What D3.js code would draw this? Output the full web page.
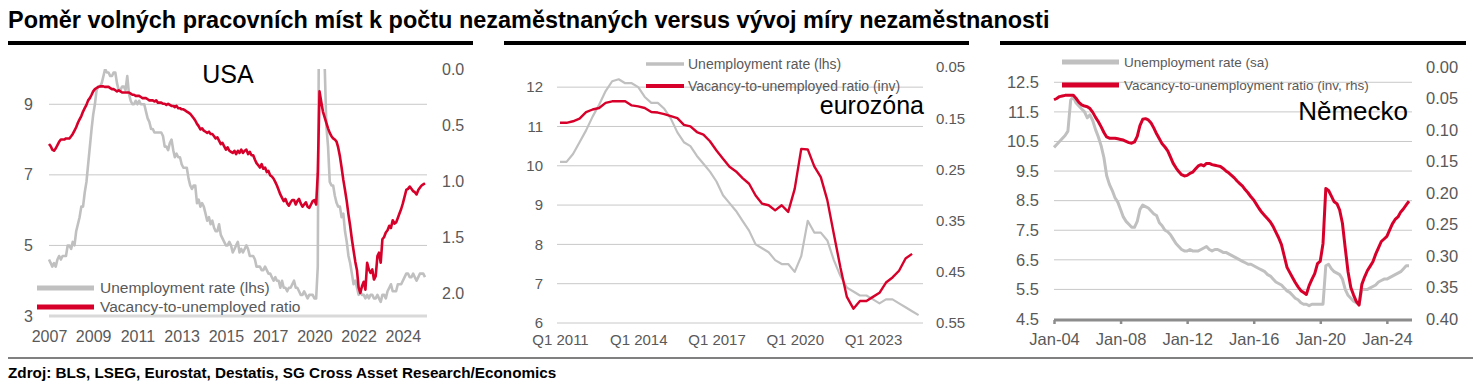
<!DOCTYPE html>
<html>
<head>
<meta charset="utf-8">
<script src="https://cdn.jsdelivr.net/npm/d3@7"></script>
<style>
  body { margin: 0; background: #fff; }
  svg text { font-family: "Liberation Sans", Arial, sans-serif; }
  .axis path.domain { display: none; }
  .axis text { fill: #595959; }
</style>
</head>
<body>
<svg id="chart" width="1473" height="391"></svg>
<script>
// ---------- DATA ----------
// USA, monthly Jan 2007 - Jun 2025
const usUnemp = [
  4.6,4.5,4.4,4.5,4.4,4.6,4.7,4.6,4.7,4.7,4.7,5.0,
  5.0,4.9,5.1,5.0,5.4,5.6,5.8,6.1,6.1,6.5,6.8,7.3,
  7.8,8.3,8.7,9.0,9.4,9.5,9.5,9.6,9.8,10.0,9.9,9.9,
  9.8,9.8,9.9,9.9,9.6,9.4,9.4,9.5,9.5,9.4,9.8,9.3,
  9.1,9.0,9.0,9.1,9.0,9.1,9.0,9.0,9.0,8.8,8.6,8.5,
  8.3,8.3,8.2,8.2,8.2,8.2,8.2,8.1,7.8,7.8,7.7,7.9,
  8.0,7.7,7.5,7.6,7.5,7.5,7.3,7.2,7.2,7.2,6.9,6.7,
  6.6,6.7,6.7,6.2,6.3,6.1,6.2,6.1,5.9,5.7,5.8,5.6,
  5.7,5.5,5.4,5.4,5.6,5.3,5.2,5.1,5.0,5.0,5.1,5.0,
  4.8,4.9,5.0,5.1,4.8,4.9,4.8,4.9,5.0,4.9,4.7,4.7,
  4.7,4.6,4.4,4.4,4.4,4.3,4.3,4.4,4.3,4.2,4.2,4.1,
  4.0,4.1,4.0,4.0,3.8,4.0,3.8,3.8,3.7,3.8,3.8,3.9,
  4.0,3.8,3.8,3.7,3.6,3.6,3.7,3.6,3.5,3.6,3.6,3.6,
  3.5,3.5,4.4,14.8,13.2,11.0,10.2,8.4,7.8,6.8,6.7,6.7,
  6.4,6.2,6.1,6.1,5.8,5.9,5.4,5.1,4.7,4.5,4.2,3.9,
  4.0,3.8,3.6,3.7,3.6,3.6,3.5,3.6,3.5,3.6,3.6,3.5,
  3.5,3.6,3.5,3.4,3.6,3.6,3.5,3.7,3.8,3.9,3.7,3.7,
  3.7,3.9,3.9,3.9,4.0,4.1,4.2,4.2,4.1,4.1,4.2,4.1,
  4.0,4.1,4.2,4.2,4.2,4.1
];
const usRatio = [
  .67,.69,.72,.73,.71,.68,.65,.63,.63,.63,.62,.62,
  .62,.60,.58,.55,.52,.48,.45,.42,.38,.35,.32,.28,
  .26,.23,.20,.18,.17,.16,.155,.155,.155,.16,.16,.16,
  .17,.18,.18,.19,.20,.19,.20,.21,.21,.21,.21,.21,
  .22,.23,.23,.24,.24,.24,.25,.26,.26,.26,.27,.28,
  .28,.28,.29,.28,.30,.30,.30,.31,.31,.32,.31,.32,
  .33,.33,.34,.33,.35,.35,.36,.36,.37,.38,.39,.40,
  .42,.44,.46,.49,.51,.54,.53,.55,.56,.57,.56,.58,
  .58,.60,.62,.61,.64,.67,.66,.69,.72,.70,.73,.74,
  .75,.73,.76,.73,.75,.72,.75,.73,.72,.76,.74,.77,
  .77,.81,.84,.86,.88,.85,.89,.88,.92,.91,.95,.96,
  .98,1.01,1.04,1.08,1.12,1.15,1.18,1.16,1.20,1.22,1.19,1.17,
  1.17,1.21,1.18,1.16,1.20,1.23,1.21,1.19,1.23,1.24,1.21,1.18,
  1.17,1.21,.93,.20,.29,.38,.43,.48,.53,.57,.60,.62,
  .63,.65,.70,.78,.88,.99,1.08,1.18,1.30,1.40,1.52,1.62,
  1.72,1.80,1.95,2.0,1.94,1.90,1.97,1.73,1.79,1.82,1.79,1.88,
  1.85,1.67,1.64,1.73,1.52,1.50,1.46,1.44,1.40,1.42,1.35,1.38,
  1.37,1.33,1.29,1.25,1.20,1.14,1.08,1.07,1.05,1.07,1.09,1.10,
  1.12,1.08,1.06,1.04,1.03,1.02
];
const usTickLabels = ["2007","2009","2011","2013","2015","2017","2020","2022","2024"];
const usLeftTicks = [3, 5, 7, 9];
const usRightTicks = [0, 0.5, 1.0, 1.5, 2.0];

// Eurozone, quarterly Q1 2011 - Q4 2024
const ezQuarters = d3.range(56).map(i => "Q" + (i % 4 + 1) + " " + (2011 + Math.floor(i / 4)));
const ezUnemp = [
  10.1,10.1,10.3,10.6,10.9,11.25,11.55,11.9,12.15,12.2,
  12.1,12.1,12.0,11.75,11.6,11.6,11.45,11.2,10.85,10.6,
  10.5,10.25,10.05,9.85,9.6,9.25,9.05,8.85,8.6,8.35,
  8.0,7.9,7.8,7.6,7.5,7.5,7.3,7.7,8.6,8.3,
  8.3,8.1,7.6,7.2,6.9,6.8,6.7,6.7,6.6,6.5,
  6.6,6.6,6.5,6.4,6.3,6.2
];
const ezRatio = [
  .159,.159,.156,.151,.138,.133,.130,.120,.117,.117,
  .117,.125,.127,.130,.138,.139,.142,.146,.150,.163,
  .166,.177,.182,.195,.213,.229,.245,.254,.267,.278,
  .301,.317,.320,.330,.320,.333,.288,.210,.211,.244,
  .265,.310,.376,.441,.499,.522,.507,.507,.499,.491,
  .471,.461,.448,.424,.415
];
const ezTickLabels = ["Q1 2011","Q1 2014","Q1 2017","Q1 2020","Q1 2023"];
const ezLeftTicks = [6, 7, 8, 9, 10, 11, 12];
const ezRightTicks = [0.05, 0.15, 0.25, 0.35, 0.45, 0.55];

// Germany, every second month Jan 2004 - May 2025
const deUnemp = [
  10.3,10.4,10.5,10.6,10.7,10.85,11.9,12.0,11.8,11.7,
  11.6,11.5,11.3,11.4,11.2,10.9,10.65,10.35,9.95,9.35,
  9.05,8.85,8.6,8.45,8.2,7.95,7.8,7.7,7.6,7.6,
  7.8,8.2,8.35,8.3,8.25,8.15,8.05,8.0,7.75,7.65,
  7.5,7.45,7.35,7.2,7.05,6.95,6.85,6.8,6.8,6.85,
  6.8,6.8,6.8,6.85,6.9,6.95,6.85,6.8,6.85,6.85,
  6.8,6.75,6.75,6.7,6.65,6.6,6.55,6.5,6.45,6.4,
  6.35,6.35,6.3,6.25,6.2,6.15,6.1,6.0,5.95,5.85,
  5.75,5.7,5.65,5.55,5.45,5.4,5.3,5.2,5.15,5.05,
  5.0,5.0,4.95,5.0,5.0,5.0,5.0,5.0,6.3,6.35,
  6.2,6.1,6.05,6.0,5.85,5.5,5.3,5.2,5.1,5.05,
  5.0,5.5,5.5,5.5,5.55,5.6,5.65,5.75,5.8,5.85,
  5.85,5.9,5.95,6.0,6.05,6.1,6.2,6.3,6.3
];
const deRatio = [
  .052,.050,.047,.046,.045,.045,.045,.045,.050,.056,
  .060,.062,.063,.066,.072,.080,.087,.095,.104,.111,
  .113,.113,.113,.114,.115,.116,.118,.120,.121,.119,
  .110,.093,.083,.082,.084,.089,.097,.106,.114,.122,
  .127,.133,.143,.153,.160,.166,.171,.173,.172,.169,
  .167,.162,.157,.155,.157,.153,.153,.155,.156,.157,
  .158,.161,.165,.168,.172,.176,.181,.185,.189,.195,
  .200,.206,.211,.218,.225,.231,.236,.241,.246,.253,
  .262,.271,.282,.300,.318,.326,.334,.342,.349,.355,
  .358,.361,.347,.337,.328,.312,.308,.280,.193,.196,
  .205,.214,.217,.227,.248,.287,.325,.350,.362,.372,
  .378,.345,.333,.323,.316,.309,.297,.287,.277,.273,
  .269,.259,.249,.242,.238,.230,.225,.219,.213
];
const deTickLabels = ["Jan-04","Jan-08","Jan-12","Jan-16","Jan-20","Jan-24"];
const deLeftTicks = [4.5, 5.5, 6.5, 7.5, 8.5, 9.5, 10.5, 11.5, 12.5];
const deRightTicks = [0, 0.05, 0.10, 0.15, 0.20, 0.25, 0.30, 0.35, 0.40];

// ---------- STYLE ----------
const RED = "#d7002a";
const GREY = "#c0c0c0";
const GRID = "#c8c8c8";
const TXT = "#595959";

const svg = d3.select("#chart");

// title, header bars, footer
const title = svg.append("text")
  .attr("x", 8).attr("y", 28)
  .attr("font-size", 22).attr("font-weight", "bold")
  .attr("fill", "#000")
  .text("Poměr volných pracovních míst k počtu nezaměstnaných versus vývoj míry nezaměstnanosti");
// fit width of the original heading
let tw = title.node().getComputedTextLength();
title.attr("font-size", 22 * 1042 / tw);

[[8, 473], [504, 969], [1000, 1466]].forEach(b => {
  svg.append("rect").attr("x", b[0]).attr("y", 41).attr("width", b[1] - b[0]).attr("height", 4).attr("fill", "#000");
});

svg.append("rect").attr("x", 8).attr("y", 357).attr("width", 1465).attr("height", 2).attr("fill", "#808080");

const foot = svg.append("text")
  .attr("x", 8).attr("y", 378)
  .attr("font-size", 14).attr("font-weight", "bold").attr("fill", "#000")
  .text("Zdroj: BLS, LSEG, Eurostat, Destatis, SG Cross Asset Research/Economics");
let fw = foot.node().getComputedTextLength();
foot.attr("font-size", 14 * 549 / fw);

function gridlines(g, yScale, ticks, x0, x1) {
  g.selectAll(null).data(ticks).enter().append("line")
    .attr("x1", x0).attr("x2", x1)
    .attr("y1", d => yScale(d)).attr("y2", d => yScale(d))
    .attr("stroke", GRID).attr("stroke-width", 1);
}

function legend(g, x0, x1, tx, y, color, w, label, fs) {
  g.append("line").attr("x1", x0).attr("x2", x1).attr("y1", y).attr("y2", y)
    .attr("stroke", color).attr("stroke-width", w);
  g.append("text").attr("x", tx).attr("y", y).attr("dy", "0.35em")
    .attr("font-size", fs).attr("fill", TXT).text(label);
}

// ---------- USA ----------
(function () {
  const g = svg.append("g");
  const dates = usUnemp.map((d, i) => new Date(2007, i, 1));
  const x = d3.scaleTime().domain([dates[0], dates[dates.length - 1]]).range([49, 425]);
  const yL = d3.scaleLinear().domain([3, 10]).range([316, 69]);
  const yR = d3.scaleLinear().domain([0, 2]).range([69, 293]);

  gridlines(g, yL, [5, 7, 9], 49, 427);
  g.append("line").attr("x1", 49).attr("x2", 427).attr("y1", yL(3)).attr("y2", yL(3))
    .attr("stroke", "#d9d9d9").attr("stroke-width", 3);

  g.append("clipPath").attr("id", "clipUS").append("rect")
    .attr("x", 40).attr("y", 69).attr("width", 400).attr("height", 250);

  const lineL = d3.line().x((d, i) => x(dates[i])).y(d => yL(d));
  const lineR = d3.line().x((d, i) => x(dates[i])).y(d => yR(d));
  g.append("path").datum(usUnemp).attr("d", lineL).attr("clip-path", "url(#clipUS)")
    .attr("fill", "none").attr("stroke", GREY).attr("stroke-width", 2.6).attr("stroke-linejoin", "round");
  g.append("path").datum(usRatio).attr("d", lineR).attr("clip-path", "url(#clipUS)")
    .attr("fill", "none").attr("stroke", RED).attr("stroke-width", 2.6).attr("stroke-linejoin", "round");

  const fs = 16;
  g.append("g").attr("class", "axis").attr("transform", "translate(33,0)")
    .call(d3.axisLeft(yL).tickValues(usLeftTicks).tickSize(0).tickPadding(0).tickFormat(d3.format("d")))
    .selectAll("text").attr("font-size", fs);
  g.append("g").attr("class", "axis").attr("transform", "translate(442,0)")
    .call(d3.axisRight(yR).tickValues(usRightTicks).tickSize(0).tickPadding(0).tickFormat(d3.format(".1f")))
    .selectAll("text").attr("font-size", fs);
  const tickDates = usTickLabels.map((d, i) => dates[i * 26]);
  g.append("g").attr("class", "axis").attr("transform", "translate(0," + (342 - 0.71 * fs) + ")")
    .call(d3.axisBottom(x).tickValues(tickDates).tickSize(0).tickPadding(0).tickFormat((d, i) => usTickLabels[i]))
    .selectAll("text").attr("font-size", fs);

  g.append("text").attr("x", 228).attr("y", 83).attr("text-anchor", "middle")
    .attr("font-size", 25).attr("fill", "#000").text("USA");

  legend(g, 37, 94, 100, 288, GREY, 5, "Unemployment rate (lhs)", 15.5);
  legend(g, 37, 94, 100, 307, RED, 5, "Vacancy-to-unemployed ratio", 15.5);
})();

// ---------- EUROZONE ----------
(function () {
  const g = svg.append("g");
  const x = d3.scalePoint().domain(ezQuarters).range([560, 560 + 6.52 * 55]);
  const yL = d3.scaleLinear().domain([6, 12.5]).range([323, 67.5]);
  const yR = d3.scaleLinear().domain([0.05, 0.55]).range([67, 323]);

  gridlines(g, yL, ezLeftTicks, 557, 923);

  const lineL = d3.line().x((d, i) => x(ezQuarters[i])).y(d => yL(d));
  const lineR = d3.line().x((d, i) => x(ezQuarters[i])).y(d => yR(d));
  g.append("path").datum(ezUnemp).attr("d", lineL)
    .attr("fill", "none").attr("stroke", GREY).attr("stroke-width", 2.2).attr("stroke-linejoin", "round");
  g.append("path").datum(ezRatio).attr("d", lineR)
    .attr("fill", "none").attr("stroke", RED).attr("stroke-width", 2.4).attr("stroke-linejoin", "round");

  const fs = 15;
  g.append("g").attr("class", "axis").attr("transform", "translate(543,0)")
    .call(d3.axisLeft(yL).tickValues(ezLeftTicks).tickSize(0).tickPadding(0).tickFormat(d3.format("d")))
    .selectAll("text").attr("font-size", fs);
  g.append("g").attr("class", "axis").attr("transform", "translate(936,0)")
    .call(d3.axisRight(yR).tickValues(ezRightTicks).tickSize(0).tickPadding(0).tickFormat(d3.format(".2f")))
    .selectAll("text").attr("font-size", fs);
  g.append("g").attr("class", "axis").attr("transform", "translate(0," + (345 - 0.71 * fs) + ")")
    .call(d3.axisBottom(x).tickValues(ezTickLabels).tickSize(0).tickPadding(0))
    .selectAll("text").attr("font-size", fs);

  legend(g, 646, 684, 688, 64, GREY, 3.5, "Unemployment rate (lhs)", 14);
  legend(g, 646, 684, 688, 86, RED, 4, "Vacancy-to-unemployed ratio (inv)", 14);

  g.append("text").attr("x", 924).attr("y", 114).attr("text-anchor", "end")
    .attr("font-size", 25).attr("fill", "#000").text("eurozóna");
})();

// ---------- GERMANY ----------
(function () {
  const g = svg.append("g");
  const dates = deUnemp.map((d, i) => new Date(2004, i * 2, 1));
  const x = d3.scaleTime().domain([new Date(2004, 0, 1), new Date(2025, 4, 1)]).range([1054, 1409]);
  const yL = d3.scaleLinear().domain([4.5, 13]).range([319, 67.5]);
  const yR = d3.scaleLinear().domain([0, 0.4]).range([67, 319]);

  gridlines(g, yL, deLeftTicks.slice(1), 1054, 1412);

  const lineL = d3.line().x((d, i) => x(dates[i])).y(d => yL(d));
  const lineR = d3.line().x((d, i) => x(dates[i])).y(d => yR(d));
  g.append("path").datum(deUnemp).attr("d", lineL)
    .attr("fill", "none").attr("stroke", GREY).attr("stroke-width", 3).attr("stroke-linejoin", "round");
  g.append("path").datum(deRatio).attr("d", lineR)
    .attr("fill", "none").attr("stroke", RED).attr("stroke-width", 3).attr("stroke-linejoin", "round");

  const fs = 16.5;
  // bottom axis line with tick marks
  g.append("line").attr("x1", 1054).attr("x2", 1412).attr("y1", 320).attr("y2", 320)
    .attr("stroke", "#8c8c8c").attr("stroke-width", 3);
  const tickDates = deTickLabels.map((d, i) => new Date(2004 + 4 * i, 0, 1));
  const xAx = g.append("g").attr("class", "axis").attr("transform", "translate(0,320)")
    .call(d3.axisBottom(x).tickValues(tickDates).tickSize(4).tickPadding(9).tickFormat((d, i) => deTickLabels[i]));
  xAx.selectAll("line").attr("stroke", "#8c8c8c").attr("stroke-width", 2.5);
  xAx.selectAll("text").attr("font-size", fs);

  g.append("g").attr("class", "axis").attr("transform", "translate(1039,0)")
    .call(d3.axisLeft(yL).tickValues(deLeftTicks).tickSize(0).tickPadding(0).tickFormat(d3.format(".1f")))
    .selectAll("text").attr("font-size", fs);
  g.append("g").attr("class", "axis").attr("transform", "translate(1426,0)")
    .call(d3.axisRight(yR).tickValues(deRightTicks).tickSize(0).tickPadding(0).tickFormat(d3.format(".2f")))
    .selectAll("text").attr("font-size", fs);

  legend(g, 1062, 1119, 1124, 62, GREY, 5, "Unemployment rate (sa)", 13.5);
  legend(g, 1062, 1119, 1124, 85, RED, 5, "Vacancy-to-unemployment ratio (inv, rhs)", 13.5);

  g.append("text").attr("x", 1408).attr("y", 120).attr("text-anchor", "end")
    .attr("font-size", 26).attr("fill", "#000").text("Německo");
})();
</script>
</body>
</html>
